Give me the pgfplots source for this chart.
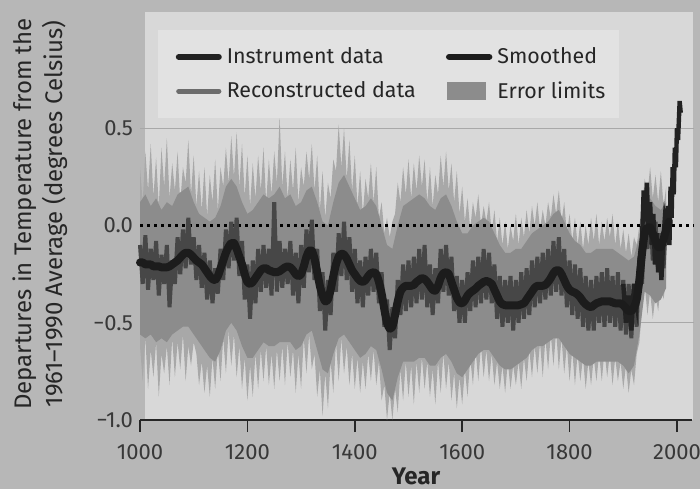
\documentclass[border=0pt]{standalone}
\usepackage{fontspec}
\setmainfont{Fira Sans}
\usepackage{pgfplots}
\pgfplotsset{compat=1.18}
\usepackage{pgfplotstable}
\usepgfplotslibrary{fillbetween}

\definecolor{outerbg}{HTML}{B7B7B7}
\definecolor{plotbg}{HTML}{D8D8D8}
\definecolor{legbg}{HTML}{E2E2E2}
\definecolor{bandout}{HTML}{A8A8A8}
\definecolor{bandcore}{HTML}{8C8C8C}
\definecolor{reccol}{HTML}{474747}
\definecolor{instcol}{HTML}{222222}
\definecolor{smoothcol}{HTML}{1C1C1C}
\definecolor{gridcol}{HTML}{A8A8A8}

% reconstruction: error limits (up, lo) and reconstructed series (rec), 5-year steps
\pgfplotstableread{
yr up lo rec
1000 0.30 -0.62 -0.10
1005 0.12 -0.80 -0.30
1010 0.38 -0.58 -0.05
1015 0.18 -0.84 -0.33
1020 0.42 -0.64 -0.12
1025 0.15 -0.78 -0.28
1030 0.35 -0.60 -0.08
1035 0.10 -0.88 -0.36
1040 0.40 -0.66 -0.15
1045 0.20 -0.76 -0.30
1050 0.45 -0.62 -0.10
1055 0.14 -0.82 -0.42
1060 0.32 -0.58 -0.18
1065 0.18 -0.78 -0.30
1070 0.38 -0.60 -0.06
1075 0.12 -0.74 -0.25
1080 0.30 -0.56 -0.02
1085 0.22 -0.80 -0.22
1090 0.44 -0.62 0.04
1095 0.16 -0.72 -0.20
1100 0.36 -0.60 -0.06
1105 0.10 -0.66 -0.28
1110 0.28 -0.82 -0.10
1115 0.08 -0.70 -0.32
1120 0.30 -0.86 -0.14
1125 0.05 -0.72 -0.38
1130 0.26 -0.88 -0.18
1135 0.12 -0.68 -0.40
1140 0.34 -0.84 -0.22
1145 0.08 -0.64 -0.35
1150 0.30 -0.80 -0.12
1155 0.20 -0.58 -0.28
1160 0.40 -0.76 -0.02
1165 0.22 -0.54 -0.22
1170 0.46 -0.72 0.02
1175 0.25 -0.56 -0.18
1180 0.48 -0.78 0.04
1185 0.20 -0.62 -0.26
1190 0.42 -0.84 -0.08
1195 0.15 -0.68 -0.38
1200 0.36 -0.90 -0.20
1205 0.10 -0.72 -0.48
1210 0.32 -0.88 -0.18
1215 0.14 -0.66 -0.40
1220 0.36 -0.84 -0.12
1225 0.18 -0.64 -0.34
1230 0.40 -0.80 -0.10
1235 0.12 -0.62 -0.32
1240 0.34 -0.82 -0.12
1245 0.16 -0.66 -0.36
1250 0.38 -0.84 0.12
1255 0.22 -0.64 -0.34
1260 0.56 -0.80 -0.08
1265 0.20 -0.62 -0.32
1270 0.38 -0.82 -0.12
1275 0.14 -0.60 -0.30
1280 0.34 -0.78 -0.08
1285 0.18 -0.64 -0.36
1290 0.40 -0.86 -0.14
1295 0.12 -0.66 -0.40
1300 0.30 -0.84 -0.10
1305 0.20 -0.58 -0.32
1310 0.38 -0.76 -0.02
1315 0.24 -0.56 -0.24
1320 0.42 -0.74 0.03
1325 0.18 -0.66 -0.28
1330 0.36 -0.88 -0.12
1335 0.08 -0.74 -0.44
1340 0.28 -0.98 -0.24
1345 0.04 -0.76 -0.54
1350 0.22 -0.94 -0.28
1355 0.14 -0.70 -0.46
1360 0.34 -0.86 -0.14
1365 0.28 -0.60 -0.34
1370 0.52 -0.80 -0.04
1375 0.30 -0.58 -0.26
1380 0.50 -0.76 0.02
1385 0.24 -0.62 -0.28
1390 0.44 -0.82 -0.06
1395 0.18 -0.66 -0.34
1400 0.36 -0.84 -0.12
1405 0.10 -0.68 -0.40
1410 0.28 -0.86 -0.18
1415 0.06 -0.70 -0.42
1420 0.24 -0.84 -0.16
1425 0.14 -0.66 -0.36
1430 0.32 -0.80 -0.12
1435 0.12 -0.64 -0.34
1440 0.30 -0.82 -0.14
1445 0.04 -0.70 -0.40
1450 0.12 -0.90 -0.24
1455 -0.04 -0.82 -0.52
1460 0.04 -1.00 -0.38
1465 -0.06 -0.86 -0.64
1470 0.02 -1.00 -0.42
1475 0.06 -0.84 -0.58
1480 0.22 -0.96 -0.28
1485 0.12 -0.74 -0.46
1490 0.30 -0.90 -0.20
1495 0.16 -0.70 -0.44
1500 0.34 -0.88 -0.18
1505 0.14 -0.72 -0.42
1510 0.32 -0.92 -0.16
1515 0.18 -0.70 -0.40
1520 0.36 -0.86 -0.12
1525 0.20 -0.68 -0.38
1530 0.34 -0.84 -0.10
1535 0.12 -0.70 -0.42
1540 0.30 -0.88 -0.20
1545 0.10 -0.74 -0.46
1550 0.26 -0.92 -0.22
1555 0.16 -0.70 -0.40
1560 0.36 -0.86 -0.12
1565 0.20 -0.66 -0.34
1570 0.38 -0.84 -0.10
1575 0.18 -0.70 -0.36
1580 0.32 -0.90 -0.16
1585 0.12 -0.76 -0.44
1590 0.28 -0.94 -0.26
1595 0.06 -0.78 -0.50
1600 0.20 -0.92 -0.28
1605 0.02 -0.74 -0.50
1610 0.14 -0.88 -0.24
1615 -0.02 -0.68 -0.44
1620 0.12 -0.82 -0.18
1625 0.04 -0.64 -0.42
1630 0.16 -0.80 -0.16
1635 0.00 -0.62 -0.40
1640 0.10 -0.78 -0.12
1645 0.02 -0.64 -0.38
1650 0.12 -0.80 -0.14
1655 -0.04 -0.66 -0.40
1660 0.08 -0.82 -0.20
1665 -0.08 -0.70 -0.48
1670 0.04 -0.84 -0.26
1675 -0.10 -0.72 -0.52
1680 0.02 -0.86 -0.28
1685 -0.12 -0.70 -0.50
1690 0.00 -0.84 -0.26
1695 -0.08 -0.72 -0.54
1700 0.06 -0.82 -0.28
1705 -0.10 -0.70 -0.50
1710 0.04 -0.84 -0.24
1715 -0.06 -0.68 -0.48
1720 0.08 -0.80 -0.22
1725 -0.04 -0.64 -0.46
1730 0.10 -0.78 -0.18
1735 0.00 -0.62 -0.42
1740 0.12 -0.76 -0.16
1745 -0.02 -0.60 -0.40
1750 0.08 -0.78 -0.14
1755 0.00 -0.58 -0.38
1760 0.12 -0.74 -0.12
1765 0.04 -0.56 -0.36
1770 0.16 -0.72 -0.08
1775 0.06 -0.54 -0.34
1780 0.18 -0.74 -0.06
1785 0.02 -0.58 -0.36
1790 0.12 -0.76 -0.12
1795 -0.04 -0.62 -0.42
1800 0.06 -0.80 -0.18
1805 -0.08 -0.64 -0.46
1810 0.04 -0.82 -0.20
1815 -0.10 -0.66 -0.48
1820 0.02 -0.80 -0.22
1825 -0.12 -0.68 -0.52
1830 0.00 -0.84 -0.26
1835 -0.10 -0.70 -0.54
1840 0.04 -0.82 -0.28
1845 -0.08 -0.68 -0.54
1850 0.06 -0.80 -0.26
1855 -0.10 -0.66 -0.50
1860 0.02 -0.80 -0.24
1865 -0.08 -0.64 -0.52
1870 0.04 -0.78 -0.22
1875 -0.06 -0.66 -0.50
1880 0.06 -0.82 -0.26
1885 -0.10 -0.68 -0.52
1890 0.02 -0.80 -0.24
1895 -0.12 -0.70 -0.54
1900 -0.02 -0.84 -0.28
1905 -0.14 -0.72 -0.56
1910 -0.04 -0.86 -0.30
1915 -0.16 -0.74 -0.58
1920 -0.06 -0.82 -0.30
1925 -0.10 -0.66 -0.52
1930 0.00 -0.60 -0.16
1935 0.10 -0.42 -0.30
1940 0.24 -0.30 0.08
1945 0.16 -0.46 -0.12
1950 0.30 -0.34 0.10
1955 0.14 -0.48 -0.18
1960 0.26 -0.36 0.02
1965 0.12 -0.44 -0.24
1970 0.28 -0.30 -0.04
1975 0.10 -0.38 -0.22
1980 0.20 -0.26 0.04
}\band

% denser core of the error band, 10-year steps
\pgfplotstableread{
yr cu cl
1000 0.12 -0.56
1010 0.16 -0.58
1020 0.10 -0.56
1030 0.14 -0.60
1040 0.08 -0.58
1050 0.12 -0.60
1060 0.10 -0.56
1070 0.16 -0.54
1080 0.18 -0.52
1090 0.20 -0.52
1100 0.12 -0.56
1110 0.06 -0.60
1120 0.04 -0.64
1130 0.02 -0.68
1140 0.04 -0.70
1150 0.10 -0.64
1160 0.20 -0.54
1170 0.24 -0.50
1180 0.20 -0.54
1190 0.12 -0.62
1200 0.06 -0.68
1210 0.08 -0.68
1220 0.12 -0.64
1230 0.16 -0.60
1240 0.14 -0.62
1250 0.16 -0.62
1260 0.20 -0.60
1270 0.14 -0.60
1280 0.16 -0.60
1290 0.10 -0.64
1300 0.12 -0.62
1310 0.18 -0.56
1320 0.20 -0.54
1330 0.12 -0.64
1340 0.02 -0.74
1350 0.00 -0.76
1360 0.12 -0.66
1370 0.22 -0.58
1380 0.26 -0.56
1390 0.20 -0.60
1400 0.14 -0.64
1410 0.08 -0.68
1420 0.10 -0.66
1430 0.14 -0.62
1440 0.10 -0.64
1450 0.00 -0.74
1460 -0.10 -0.86
1470 -0.12 -0.90
1480 0.00 -0.78
1490 0.10 -0.70
1500 0.12 -0.70
1510 0.14 -0.70
1520 0.16 -0.68
1530 0.14 -0.68
1540 0.10 -0.72
1550 0.08 -0.72
1560 0.14 -0.68
1570 0.16 -0.66
1580 0.10 -0.70
1590 0.02 -0.76
1600 -0.04 -0.78
1610 -0.04 -0.74
1620 0.00 -0.70
1630 0.02 -0.66
1640 0.04 -0.64
1650 0.02 -0.64
1660 -0.04 -0.68
1670 -0.10 -0.72
1680 -0.14 -0.74
1690 -0.14 -0.74
1700 -0.12 -0.72
1710 -0.12 -0.70
1720 -0.08 -0.68
1730 -0.04 -0.64
1740 -0.02 -0.62
1750 0.00 -0.62
1760 0.02 -0.60
1770 0.06 -0.58
1780 0.08 -0.58
1790 0.02 -0.62
1800 -0.04 -0.66
1810 -0.08 -0.68
1820 -0.10 -0.70
1830 -0.14 -0.72
1840 -0.14 -0.72
1850 -0.12 -0.70
1860 -0.12 -0.70
1870 -0.12 -0.70
1880 -0.12 -0.70
1890 -0.14 -0.70
1900 -0.16 -0.72
1910 -0.18 -0.76
1920 -0.16 -0.72
1930 -0.06 -0.56
1940 0.12 -0.34
1950 0.14 -0.36
1960 0.10 -0.40
1970 0.08 -0.38
1980 0.12 -0.32
}\core

% smoothed curve
\pgfplotstableread{
yr t
1000 -0.19
1005 -0.19
1010 -0.20
1015 -0.20
1020 -0.20
1025 -0.21
1030 -0.21
1035 -0.21
1040 -0.215
1045 -0.215
1050 -0.215
1055 -0.21
1060 -0.20
1065 -0.19
1070 -0.18
1075 -0.165
1080 -0.15
1085 -0.14
1090 -0.14
1095 -0.15
1100 -0.165
1105 -0.18
1110 -0.19
1115 -0.20
1120 -0.22
1125 -0.24
1130 -0.26
1135 -0.275
1140 -0.28
1145 -0.26
1150 -0.22
1155 -0.18
1160 -0.14
1165 -0.11
1170 -0.09
1175 -0.09
1180 -0.12
1185 -0.16
1190 -0.20
1195 -0.25
1200 -0.29
1205 -0.30
1210 -0.29
1215 -0.27
1220 -0.25
1225 -0.23
1230 -0.22
1235 -0.22
1240 -0.23
1245 -0.235
1250 -0.24
1255 -0.24
1260 -0.235
1265 -0.225
1270 -0.215
1275 -0.21
1280 -0.215
1285 -0.23
1290 -0.25
1295 -0.26
1300 -0.25
1305 -0.21
1310 -0.16
1315 -0.13
1320 -0.13
1325 -0.17
1330 -0.24
1335 -0.31
1340 -0.36
1345 -0.39
1350 -0.38
1355 -0.33
1360 -0.26
1365 -0.20
1370 -0.16
1375 -0.145
1380 -0.15
1385 -0.17
1390 -0.20
1395 -0.23
1400 -0.25
1405 -0.27
1410 -0.285
1415 -0.29
1420 -0.28
1425 -0.26
1430 -0.245
1435 -0.24
1440 -0.25
1445 -0.29
1450 -0.35
1455 -0.43
1460 -0.50
1465 -0.53
1470 -0.52
1475 -0.46
1480 -0.39
1485 -0.34
1490 -0.32
1495 -0.31
1500 -0.31
1505 -0.31
1510 -0.305
1515 -0.29
1520 -0.28
1525 -0.27
1530 -0.275
1535 -0.29
1540 -0.31
1545 -0.33
1550 -0.335
1555 -0.31
1560 -0.27
1565 -0.245
1570 -0.24
1575 -0.25
1580 -0.29
1585 -0.33
1590 -0.37
1595 -0.395
1600 -0.40
1605 -0.385
1610 -0.36
1615 -0.345
1620 -0.335
1625 -0.325
1630 -0.31
1635 -0.30
1640 -0.29
1645 -0.285
1650 -0.29
1655 -0.30
1660 -0.33
1665 -0.36
1670 -0.39
1675 -0.405
1680 -0.41
1685 -0.41
1690 -0.41
1695 -0.41
1700 -0.41
1705 -0.41
1710 -0.405
1715 -0.40
1720 -0.38
1725 -0.36
1730 -0.34
1735 -0.32
1740 -0.31
1745 -0.31
1750 -0.31
1755 -0.305
1760 -0.29
1765 -0.27
1770 -0.245
1775 -0.23
1780 -0.23
1785 -0.25
1790 -0.28
1795 -0.31
1800 -0.33
1805 -0.34
1810 -0.345
1815 -0.355
1820 -0.37
1825 -0.39
1830 -0.405
1835 -0.415
1840 -0.42
1845 -0.41
1850 -0.40
1855 -0.395
1860 -0.39
1865 -0.39
1870 -0.39
1875 -0.39
1880 -0.395
1885 -0.40
1890 -0.40
1895 -0.40
1900 -0.41
1905 -0.425
1910 -0.44
1915 -0.44
1920 -0.42
1925 -0.38
1930 -0.28
1935 -0.14
1940 -0.04
1945 -0.01
1950 -0.01
1955 -0.04
1960 -0.08
1965 -0.11
1970 -0.11
1975 -0.07
1980 -0.02
1985 0.02
}\smoothed

% instrument record
\pgfplotstableread{
yr t
1900 -0.30
1905 -0.50
1910 -0.36
1915 -0.54
1920 -0.30
1925 -0.40
1930 -0.20
1935 -0.06
1938 0.18
1941 0.02
1944 0.22
1947 -0.04
1950 0.12
1953 -0.10
1956 0.06
1959 -0.20
1962 -0.04
1965 -0.24
1968 -0.08
1971 -0.28
1974 -0.10
1977 0.02
1980 -0.04
1983 0.10
1986 -0.10
1988 0.20
1990 0.04
1992 0.30
1994 0.16
1996 0.40
1998 0.30
2000 0.50
2002 0.44
2005 0.64
2007 0.58
}\inst

\begin{document}
\begin{tikzpicture}
\begin{axis}[
    set layers,
    scale only axis,
    width=276pt,
    height=204pt,
    xmin=1000, xmax=2028,
    ymin=-1, ymax=1.098,
    axis x line*=bottom,
    axis y line*=left,
    x axis line style={-, line width=0.8pt, black!85},
    y axis line style={draw=none},
    xtick={1000,1200,...,2000},
    xticklabels={1000,1200,1400,1600,1800,2000},
    ytick={-1,-0.5,0,0.5},
    yticklabels={−1.0,−0.5,0.0,0.5},
    tick align=outside,
    major tick length=6pt,
    xtick style={line width=0.8pt, black!85},
    ytick style={draw=none},
    yticklabel style={xshift=6pt},
    xticklabel style={yshift=-2.5pt},
    ticklabel style={font=\fontsize{11}{13}\selectfont, text=black!78},
    xlabel={Year},
    xlabel style={at={(axis description cs:0.5,-0.137)}, anchor=center,
        font=\fontsize{12}{14}\selectfont\bfseries, text=black!85},
    ylabel={Departures in Temperature from the\\1961–1990 Average (degrees Celsius)},
    ylabel style={at={(axis description cs:-0.181,0.505)}, anchor=center,
        align=center, font=\fontsize{12}{15.5}\selectfont, text=black!85},
    legend style={at={(axis description cs:0.0326,0.956)}, anchor=north west,
        fill=legbg, draw=none, inner xsep=5pt, inner ysep=6.5pt, row sep=3.5pt,
        font=\fontsize{10.7}{13}\selectfont, text=black!85,
        /tikz/every odd column/.append style={column sep=0.5pt},
        /tikz/every even column/.append style={column sep=9.5pt}},
    legend columns=2,
    legend cell align=left,
    clip=false,
]
% backgrounds and grid lines below the data
\begin{pgfonlayer}{axis background}
\fill[outerbg] (rel axis cs:-0.2536,-0.1691) rectangle (rel axis cs:1.0145,1.0294);
\fill[plotbg] (rel axis cs:0.009,0) rectangle (rel axis cs:1.002,1);
\end{pgfonlayer}
\begin{pgfonlayer}{axis grid}
\draw[gridcol, line width=0.6pt] (axis cs:1000,0.5) -- (axis cs:2032,0.5);
\draw[gridcol, line width=0.6pt] (axis cs:1000,-0.5) -- (axis cs:2032,-0.5);
\end{pgfonlayer}

% error limits
\addplot[draw=none, name path=up, forget plot] table[x=yr, y=up] {\band};
\addplot[draw=none, name path=lo, forget plot] table[x=yr, y=lo] {\band};
\addplot[fill=bandout, draw=none, forget plot] fill between[of=up and lo];
\addplot[draw=none, name path=cu, forget plot] table[x=yr, y=cu] {\core};
\addplot[draw=none, name path=cl, forget plot] table[x=yr, y=cl] {\core};
\addplot[fill=bandcore, draw=none, forget plot] fill between[of=cu and cl];

% zero line
\draw[black, line width=1.1pt, dash pattern=on 1.3pt off 2.2pt] (axis cs:1000,0) -- (axis cs:2032,0);

% reconstructed, instrument, smoothed
\addplot[reccol, line width=2pt, forget plot] table[x=yr, y=rec] {\band};
\addplot[instcol, line width=2.2pt, forget plot] table[x=yr, y=t] {\inst};
\addplot[smoothcol, line width=4pt, line join=round, line cap=round, smooth, tension=0.4, forget plot] table[x=yr, y=t] {\smoothed};

% legend
\addlegendimage{legend image code/.code={\path (-5pt,0pt); \draw[instcol, line width=3pt, line cap=round] (0pt,0pt) -- (20pt,0pt);}}
\addlegendentry{Instrument data}
\addlegendimage{legend image code/.code={\path (-5pt,0pt); \draw[smoothcol, line width=3.2pt, line cap=round] (0pt,0pt) -- (20pt,0pt);}}
\addlegendentry{Smoothed}
\addlegendimage{legend image code/.code={\path (-5pt,0pt); \draw[reccol!80, line width=2.6pt, line cap=round] (0pt,0pt) -- (20pt,0pt);}}
\addlegendentry{Reconstructed data}
\addlegendimage{legend image code/.code={\path (-5pt,0pt); \fill[bandcore] (-1pt,-4.25pt) rectangle (18pt,4.25pt);}}
\addlegendentry{Error limits}
\end{axis}
\pgfresetboundingbox
\useasboundingbox (-70pt,-34.5pt) rectangle (280pt,210pt);
\end{tikzpicture}
\end{document}
